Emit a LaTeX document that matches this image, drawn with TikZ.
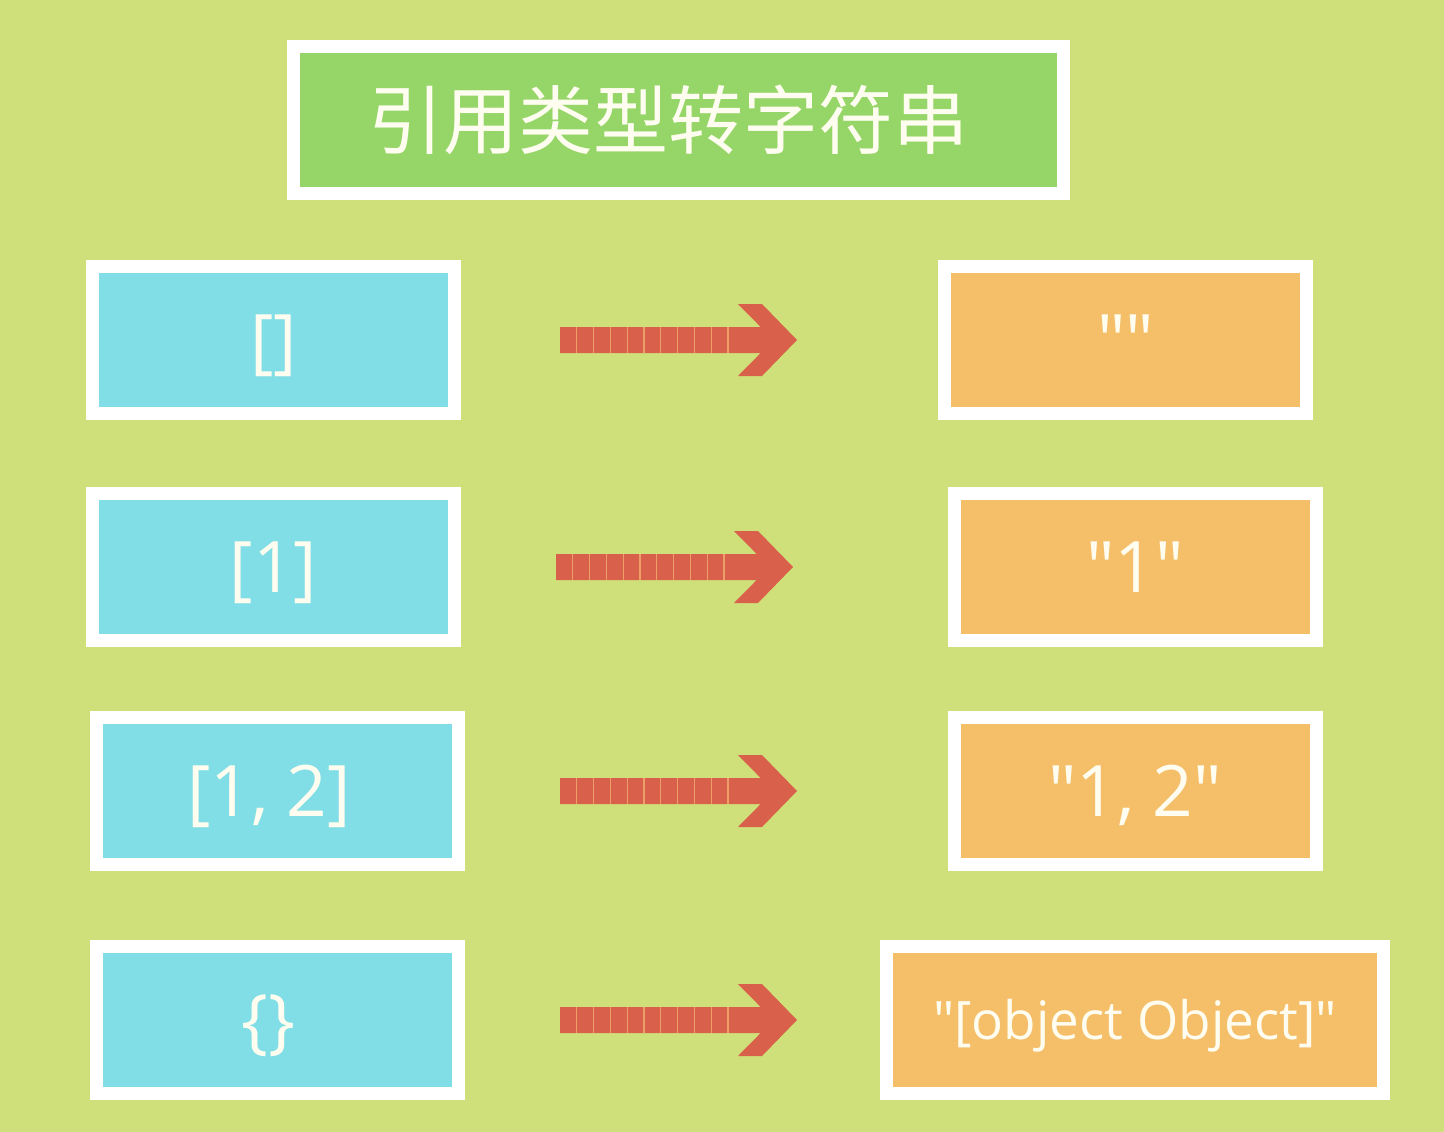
\documentclass[tikz,border=0pt]{standalone}
\usepackage{fontspec}
\setmainfont{Open Sans}[Ligatures=TeXOff]
\newfontfamily\cjk{Noto Sans CJK SC}
\definecolor{bgcol}{RGB}{207,224,122}
\definecolor{titlegreen}{RGB}{150,214,104}
\definecolor{cyanbox}{RGB}{130,222,230}
\definecolor{orangebox}{RGB}{245,191,106}
\definecolor{arrowred}{RGB}{217,96,74}
\definecolor{gapcol}{RGB}{236,160,104}
\definecolor{txt}{RGB}{255,253,240}
\begin{document}
\begin{tikzpicture}[x=1pt,y=-1pt,
  box/.style={draw=white, line width=13pt, inner sep=0pt, text=txt,
    font=\fontsize{71}{75}\selectfont, text height=50pt, text depth=0pt,
    minimum width=362pt, minimum height=147pt},
  srcbox/.style={box, fill=cyanbox},
  dstbox/.style={box, fill=orangebox},
  redarrow/.pic={
    \fill[arrowred] (0,-13) -- (200.7,-13) -- (178,-36) -- (202,-36) -- (237,0)
      -- (202,36) -- (178,36) -- (200.7,13) -- (0,13) -- cycle;
    \foreach \i in {1,...,10} \draw[gapcol, line width=1.2pt] (\i*16.8,-13) -- (\i*16.8,13);
  }]
\fill[bgcol] (0,0) rectangle (1444,1132);
\useasboundingbox (0,0) rectangle (1444,1132);

\node[box, fill=titlegreen, minimum width=770pt, minimum height=147pt,
  font=\cjk\fontsize{75}{79}\selectfont, text height=56pt] (title) at (678.5,120) {\hspace*{-20pt}引用类型转字符串};

\node[srcbox] (L1) at (273.5,340) {[]};
\node[srcbox] (L2) at (273.5,567) {[1]};
\node[srcbox] (L3) at (277,791) {\hspace*{-16pt}[1, 2]};
\node[srcbox] (L4) at (277,1020) {\hspace*{-18pt}\{\}};

\node[dstbox] (R1) at (1125.5,340) {""};
\node[dstbox] (R2) at (1135,567) {"1"};
\node[dstbox] (R3) at (1135,791) {"1, 2"};
\node[dstbox, minimum width=497pt, font=\fontsize{53}{57}\selectfont, text height=38pt] (R4) at (1135,1020) {"[object Object]"};

\coordinate (A1) at (560,340);
\coordinate (A2) at (556,567);
\coordinate (A3) at (560,791);
\coordinate (A4) at (560,1020);
\pic at (A1) {redarrow};
\pic at (A2) {redarrow};
\pic at (A3) {redarrow};
\pic at (A4) {redarrow};
\end{tikzpicture}
\end{document}
